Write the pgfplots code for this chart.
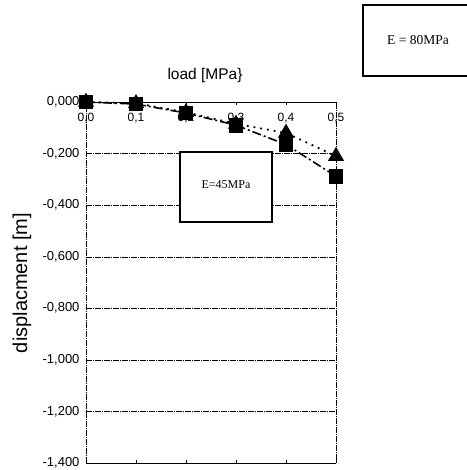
\documentclass[border=0pt]{standalone}
\usepackage{pgfplots}
\pgfplotsset{compat=1.18}
\usepackage{fontspec}
\setmainfont{Liberation Sans}
\newfontfamily\serifbox{Liberation Serif}
\begin{document}
\begin{tikzpicture}[x=1pt,y=1pt]
\path[use as bounding box] (0,0) rectangle (466,470);
\begin{axis}[
    at={(86pt,7pt)}, anchor=south west,
    scale only axis,
    width=250pt, height=361pt,
    xmin=0, xmax=0.5,
    ymin=-1.4, ymax=0,
    xtick={0,0.1,0.2,0.3,0.4,0.5},
    ytick={0,-0.2,-0.4,-0.6,-0.8,-1.0,-1.2,-1.4},
    xticklabel pos=upper,
    xticklabel style={anchor=north, yshift=-8pt, font=\fontsize{12}{13}\selectfont},
    yticklabel style={font=\fontsize{13}{14}\selectfont, xshift=-3pt},
    /pgf/number format/assume math mode=true,
    x tick label style={/pgf/number format/.cd, fixed, fixed zerofill, precision=1, use comma},
    y tick label style={/pgf/number format/.cd, fixed, fixed zerofill, precision=3, use comma, 1000 sep={}},
    major tick length=3pt,
    tick style={black, thin},
    ytick pos=left,
    ymajorgrids,
    major grid style={black, thin, dash pattern=on 6pt off 1pt on 1pt off 1pt},
    axis line style={black, thin, dash pattern=on 6pt off 1pt on 1pt off 1pt},
    clip=false,
]
\addplot[black, line width=1.8pt, dash pattern=on 1.8pt off 5pt, mark=triangle*, mark size=7.5pt, mark options={solid}] coordinates {
    (0,0) (0.1,-0.005) (0.2,-0.04) (0.3,-0.085) (0.4,-0.12) (0.5,-0.21)
};
\addplot[black, line width=1.6pt, dash pattern=on 9pt off 3pt on 2pt off 3pt, mark=square*, mark size=6.5pt, mark options={solid}] coordinates {
    (0,0) (0.1,-0.008) (0.2,-0.043) (0.3,-0.09) (0.4,-0.165) (0.5,-0.288)
};
\end{axis}
\node[font=\fontsize{15.5}{18}\selectfont] at (205,394) {load [MPa\}};
\node[font=\fontsize{20}{22}\selectfont, rotate=90] at (22,187) {displacment [m]};
\draw[black, line width=1.4pt, fill=white] (180,248) rectangle (272,318);
\node[font=\serifbox\fontsize{12}{14}\selectfont] at (226,285) {E=45MPa};
\draw[black, line width=1.2pt] (467,465) -- (363,465) -- (363,394) -- (467,394);
\node[font=\serifbox\fontsize{13.5}{15}\selectfont] at (418,430) {E = 80MPa};
\end{tikzpicture}
\end{document}
